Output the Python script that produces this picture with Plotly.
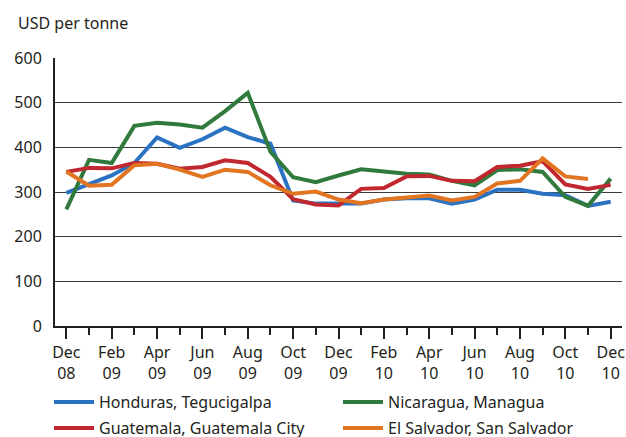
import plotly.graph_objects as go

months = list(range(25))  # Dec 08 .. Dec 10
tick_vals = list(range(0, 25, 2))
tick_labels = ["Dec<br>08", "Feb<br>09", "Apr<br>09", "Jun<br>09", "Aug<br>09", "Oct<br>09",
               "Dec<br>09", "Feb<br>10", "Apr<br>10", "Jun<br>10", "Aug<br>10", "Oct<br>10", "Dec<br>10"]

honduras = [298, 317, 337, 365, 422, 399, 418, 444, 423, 408, 281, 274, 274,
            274, 283, 286, 286, 274, 283, 305, 305, 296, 293, 269, 278]
nicaragua = [261, 372, 365, 448, 455, 451, 444, 481, 522, 390, 333, 322, 337,
             351, 346, 341, 339, 325, 315, 349, 351, 345, 289, 269, 330]
guatemala = [345, 354, 353, 365, 363, 352, 356, 371, 365, 334, 284, 272, 270,
             307, 309, 335, 336, 325, 324, 356, 359, 369, 317, 307, 316]
el_salvador = [346, 314, 316, 360, 363, 350, 334, 350, 345, 315, 296, 301, 283,
               275, 283, 288, 292, 281, 289, 319, 325, 375, 335, 329, None]

series = [
    ("Honduras, Tegucigalpa", honduras, "#2b73c2", "legend"),
    ("Nicaragua, Managua", nicaragua, "#317a3d", "legend"),
    ("Guatemala, Guatemala City", guatemala, "#c1272f", "legend2"),
    ("El Salvador, San Salvador", el_salvador, "#e27522", "legend2"),
]

fig = go.Figure()
for name, vals, color, lg in series:
    fig.add_trace(go.Scatter(x=months, y=vals, mode="lines", name=name, legend=lg,
                             line=dict(color=color, width=4), connectgaps=False))

font_family = "Noto Sans, Open Sans, sans-serif"
W, H = 626, 437
ML, MR, MT, MB = 55, 4, 58, 111
PW, PH = W - ML - MR, H - MT - MB
PLOT_BOTTOM = H - MB
legend_common = dict(orientation="h", xanchor="left", x=-6 / PW,
                     entrywidth=234, entrywidthmode="pixels", itemwidth=40,
                     font=dict(size=16, family=font_family, color="#231f20"),
                     bgcolor="rgba(0,0,0,0)", borderwidth=0)
fig.update_layout(
    width=W, height=H,
    margin=dict(l=ML, r=MR, t=MT, b=MB, autoexpand=False),
    paper_bgcolor="white", plot_bgcolor="white",
    font=dict(family=font_family, size=16, color="#231f20"),
    showlegend=True,
    legend=dict(**legend_common, y=-(402 - PLOT_BOTTOM) / PH, yanchor="middle"),
    legend2=dict(**legend_common, y=-(428 - PLOT_BOTTOM) / PH, yanchor="middle"),
    annotations=[dict(text="USD per tonne", x=0, y=1, xref="paper", yref="paper",
                      xanchor="left", yanchor="middle", xshift=-39, yshift=35, showarrow=False,
                      font=dict(size=16, family=font_family))],
)
fig.update_xaxes(range=[-0.5, 24.5], tickvals=tick_vals, ticktext=tick_labels,
                 ticks="outside", ticklen=11, tickwidth=2, tickcolor="#231f20",
                 showline=True, linecolor="#231f20", linewidth=2, showgrid=False,
                 zeroline=False, automargin=False, ticklabelstandoff=0,
                 ticklabeloverflow="allow",
                 minor=dict(dtick=1, tick0=0, ticks="outside", ticklen=7, tickwidth=2,
                            tickcolor="#231f20", showgrid=False),
                 tickfont=dict(size=16))
fig.update_yaxes(range=[0, 600], dtick=100, showline=True, linecolor="#231f20", linewidth=2,
                 showgrid=True, gridcolor="#3a3a3a", gridwidth=1, zeroline=False,
                 automargin=False, ticks="", tickfont=dict(size=16), ticklabelstandoff=8)

# remove the default page margin so the figure fills the window exactly
fig.write_html("out.html",
               config={"displayModeBar": False},
               post_script="document.body.style.margin='0';"
                           "document.documentElement.style.overflow='hidden';")
